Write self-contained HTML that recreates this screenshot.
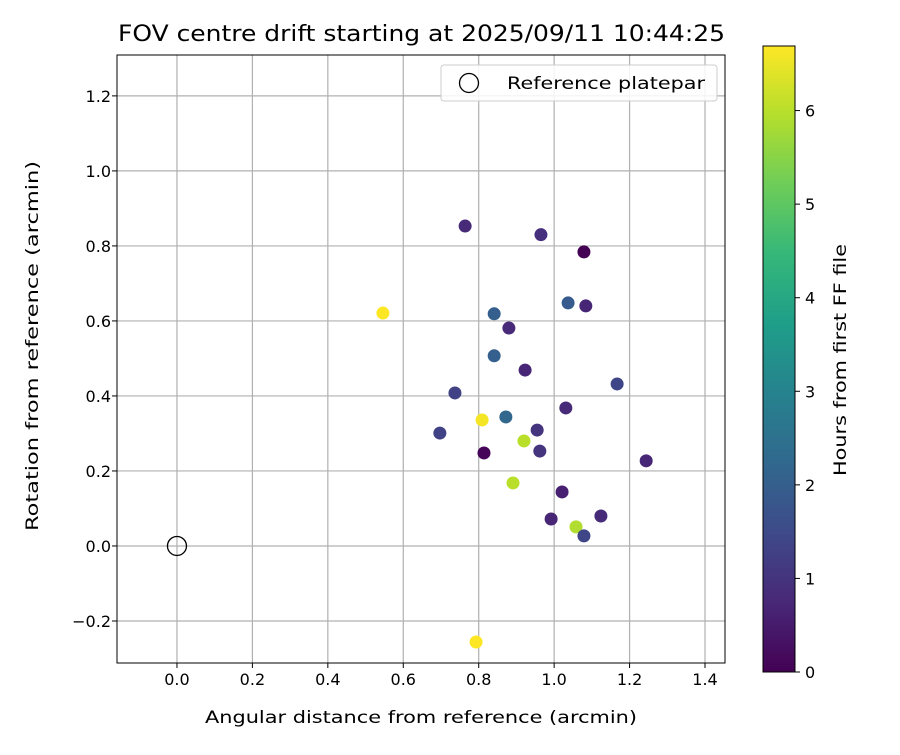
<!DOCTYPE html>
<html><head><meta charset="utf-8"><style>
body{margin:0;background:#fff;font-family:"Liberation Sans","DejaVu Sans",sans-serif}
svg text{font-family:"DejaVu Sans","Liberation Sans",sans-serif}
</style></head><body>
<svg id="chart" width="900" height="750" xmlns="http://www.w3.org/2000/svg"></svg>
<script>
const xVals=[0.764,0.965,1.079,0.546,1.037,1.084,0.841,0.880,0.841,0.923,1.167,0.737,1.031,0.809,0.872,0.955,0.697,0.920,0.962,0.814,1.244,0.891,1.021,0.992,1.124,1.058,1.079,0.793];
const yVals=[0.853,0.830,0.784,0.621,0.648,0.640,0.619,0.581,0.507,0.469,0.432,0.408,0.368,0.336,0.344,0.309,0.301,0.280,0.253,0.248,0.227,0.168,0.144,0.072,0.080,0.051,0.027,-0.256];
const hours=[0.8,0.9,0.0,6.7,1.9,0.7,2.0,0.8,2.0,0.7,1.4,1.3,0.8,6.6,2.2,1.0,1.3,6.0,1.0,0.1,0.7,6.0,0.6,0.7,0.8,5.9,1.4,6.7];
const xTicks=[0.0,0.2,0.4,0.6,0.8,1.0,1.2,1.4];
const yTicks=[-0.2,0.0,0.2,0.4,0.6,0.8,1.0,1.2];
const cTicks=[0,1,2,3,4,5,6];
const L=117,R=725,T=55,B=663;
const X0=-0.159,X1=1.453,Y0=-0.312,Y1=1.309,CMAX=6.69;
const sx=v=>L+(v-X0)/(X1-X0)*(R-L);
const sy=v=>B-(v-Y0)/(Y1-Y0)*(B-T);
const CL=763,CR=795,CT=46,CB=672;
const sc=v=>CB-v/CMAX*(CB-CT);
const vir=[[68,1,84],[72,40,120],[62,74,137],[49,104,142],[38,130,142],[31,158,137],[53,183,121],[109,205,89],[180,222,44],[253,231,37]];
function cmap(t){t=Math.max(0,Math.min(1,t));const f=t*(vir.length-1),i=Math.min(vir.length-2,Math.floor(f)),r=f-i;const c=vir[i].map((a,k)=>Math.round(a+(vir[i+1][k]-a)*r));return`rgb(${c})`;}
const svg=document.getElementById('chart');const NS='http://www.w3.org/2000/svg';
function el(tag,at,txt){const e=document.createElementNS(NS,tag);for(const k in at)e.setAttribute(k,at[k]);if(txt!==undefined)e.textContent=txt;svg.appendChild(e);return e;}
xTicks.forEach(v=>{const g=el('line',{x1:sx(v),x2:sx(v),y1:T,y2:B,stroke:'#b0b0b0','stroke-width':1.2});


const t=el('line',{x1:sx(v),x2:sx(v),y1:B,y2:B+5,stroke:'#000'});


const l=el('text',{x:sx(v),y:B+22,'font-size':16,'text-anchor':'middle'},v.toFixed(1));

});
yTicks.forEach(v=>{const g=el('line',{x1:L,x2:R,y1:sy(v),y2:sy(v),stroke:'#b0b0b0','stroke-width':1.2});


const t=el('line',{x1:L-5,x2:L,y1:sy(v),y2:sy(v),stroke:'#000'});


const l=el('text',{x:L-6,y:sy(v)+6,'font-size':16,'text-anchor':'end'},(v<0?'\u2212':'')+Math.abs(v).toFixed(1));

});
xVals.forEach((x,i)=>{const c=el('circle',{cx:sx(x),cy:sy(yVals[i]),r:6.5,fill:cmap(hours[i]/CMAX)});

});
const ref=el('circle',{cx:sx(0),cy:sy(0),r:9.5,fill:'none',stroke:'#000','stroke-width':1.3});


const fr=el('rect',{x:L,y:T,width:R-L,height:B-T,fill:'none',stroke:'#000','stroke-width':1});


const lg=el('rect',{x:441,y:65,width:276,height:36,rx:3,fill:'#fff','fill-opacity':0.85,stroke:'#ccc'});


const lm=el('circle',{cx:469,cy:83,r:9.5,fill:'none',stroke:'#000','stroke-width':1.3});


const lt=el('text',{x:507,y:89,'font-size':17,textLength:198,lengthAdjust:'spacingAndGlyphs'},'Reference platepar');


const tt=el('text',{x:118,y:41,'font-size':22,textLength:607,lengthAdjust:'spacingAndGlyphs'},'FOV centre drift starting at 2025/09/11 10:44:25');


const xt=el('text',{x:205,y:723,'font-size':17,textLength:432,lengthAdjust:'spacingAndGlyphs'},'Angular distance from reference (arcmin)');


const yt=el('text',{x:0,y:0,'font-size':17,textLength:370,lengthAdjust:'spacingAndGlyphs',transform:'translate(38 531) rotate(-90)'},'Rotation from reference (arcmin)');


const defs=el('defs',{});const gr=document.createElementNS(NS,'linearGradient');gr.setAttribute('id','vg');gr.setAttribute('x1','0');gr.setAttribute('y1','1');gr.setAttribute('x2','0');gr.setAttribute('y2','0');defs.appendChild(gr);
vir.forEach((c,i)=>{const s=document.createElementNS(NS,'stop');s.setAttribute('offset',i/(vir.length-1));s.setAttribute('stop-color',`rgb(${c})`);gr.appendChild(s);});
const cb=el('rect',{x:CL,y:CT,width:CR-CL,height:CB-CT,fill:'url(#vg)',stroke:'#000','stroke-width':1});


cTicks.forEach(v=>{const t=el('line',{x1:CR,x2:CR+5,y1:sc(v),y2:sc(v),stroke:'#000'});


const l=el('text',{x:CR+10,y:sc(v)+6,'font-size':16},String(v));

});
const ct=el('text',{x:0,y:0,'font-size':17,textLength:232,lengthAdjust:'spacingAndGlyphs',transform:'translate(846 476) rotate(-90)'},'Hours from first FF file');


</script>
</body></html>
